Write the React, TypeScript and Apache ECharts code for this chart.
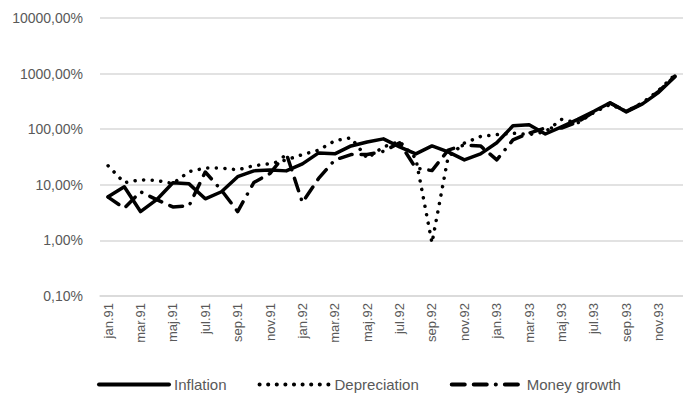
import React, { useEffect, useRef } from "react";
import * as echarts from "echarts";

const months = ["jan", "feb", "mar", "apr", "maj", "jun", "jul", "aug", "sep", "okt", "nov", "dec"];
const years = ["91", "92", "93"];
const categories: string[] = years.flatMap((y) => months.map((m) => `${m}.${y}`));

const inflation = [6.1, 9.2, 3.3, 5.4, 10.9, 10.4, 5.6, 7.5, 14, 17.8, 18.5, 17.8, 23.8, 37.5, 36, 50, 59, 67, 48, 36, 50, 39, 28, 36, 57, 115, 120, 82, 110, 150, 210, 300, 205, 285, 460, 880];
const depreciation = [22, 10.9, 12.3, 12, 10.5, 17.3, 20, 20, 18.6, 22, 24, 28, 35, 42, 62, 70, 30, 48, 60, 30, 0.9, 32, 56, 74, 80, 85, 80, 90, 150, 130, 200, 280, 210, 300, 500, 950];
const moneyGrowth = [6, 3.8, 7.5, 5.4, 4, 4.2, 17, 8, 3.3, 11, 16, 37, 4.8, 13, 28, 35, 35, 40, 57, 20, 18, 42, 52, 50, 28, 64, 85, 105, 105, 135, 205, 295, 210, 290, 480, 900];

const FONT = "'Liberation Sans', Arial, sans-serif";
const TEXT = "#595959";

export default function App() {
  const ref = useRef<HTMLDivElement>(null);
  useEffect(() => {
    document.body.style.margin = "0";
    const chart = echarts.init(ref.current!, undefined, { renderer: "svg" });
    chart.setOption({
      animation: false,
      backgroundColor: "#ffffff",
      textStyle: { fontFamily: FONT },
      grid: { left: 100, top: 18, width: 592, height: 278, containLabel: false },
      legend: {
        left: 97,
        top: 377,
        padding: 0,
        itemWidth: 70,
        itemHeight: 14,
        itemGap: 31,
        itemStyle: { opacity: 0 },
        lineStyle: { width: 4, cap: "round" },
        textStyle: { fontSize: 15, color: TEXT, fontFamily: FONT },
        data: ["Inflation", "Depreciation", "Money growth"],
      },
      xAxis: {
        type: "category",
        data: categories,
        boundaryGap: true,
        axisLine: { show: true, lineStyle: { color: "#d9d9d9", width: 1.5 } },
        axisTick: { show: false },
        axisLabel: {
          interval: 1,
          rotate: 90,
          margin: 7,
          fontSize: 13,
          color: TEXT,
          fontFamily: FONT,
        },
      },
      yAxis: {
        type: "log",
        logBase: 10,
        min: 0.1,
        max: 10000,
        axisLine: { show: false },
        axisTick: { show: false },
        splitLine: { lineStyle: { color: "#d9d9d9", width: 1.5 } },
        axisLabel: {
          margin: 17,
          fontSize: 14,
          color: TEXT,
          fontFamily: FONT,
          formatter: (v: number) => v.toFixed(2).replace(".", ",") + "%",
        },
      },
      series: [
        {
          name: "Inflation",
          type: "line",
          data: inflation,
          symbol: "none",
          color: "#000000",
          lineStyle: { color: "#000000", width: 3.5, type: "solid", cap: "round", join: "round" },
        },
        {
          name: "Depreciation",
          type: "line",
          data: depreciation,
          symbol: "none",
          color: "#000000",
          lineStyle: { color: "#000000", width: 3.5, type: [0.1, 8.5], cap: "round", join: "round" },
        },
        {
          name: "Money growth",
          type: "line",
          data: moneyGrowth,
          symbol: "none",
          color: "#000000",
          lineStyle: { color: "#000000", width: 3.5, type: [13, 9, 13, 9, 0.1, 9], cap: "round", join: "round" },
        },
      ],
    });
    return () => chart.dispose();
  }, []);
  return <div ref={ref} style={{ width: 683, height: 401 }} />;
}
